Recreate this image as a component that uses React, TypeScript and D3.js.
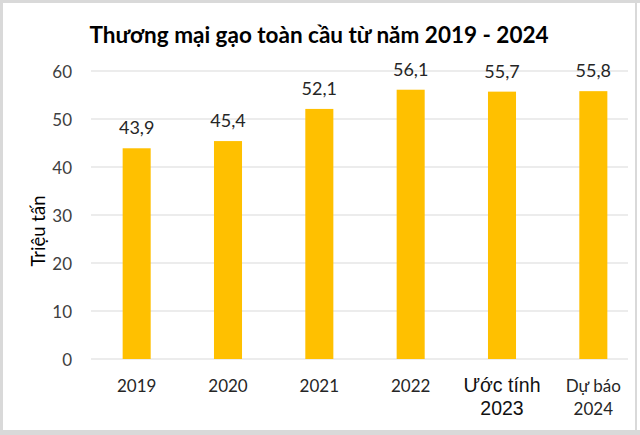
import React from "react"
import * as d3 from "d3"

const WIDTH = 640
const HEIGHT = 435
const MARGIN = { top: 71, right: 1, bottom: 76, left: 91 }
const GRID_RIGHT = 628
const FONT = "Lato, 'Open Sans', sans-serif"

const title = "Thương mại gạo toàn cầu từ năm 2019 - 2024"
const yLabel = "Triệu tấn"
const categories = ["2019", "2020", "2021", "2022", "Ước tính 2023", "Dự báo 2024"]
const categoryLines = [["2019"], ["2020"], ["2021"], ["2022"], ["Ước tính", "2023"], ["Dự báo", "2024"]]
const values = [43.9, 45.4, 52.1, 56.1, 55.7, 55.8]
const valueLabels = ["43,9", "45,4", "52,1", "56,1", "55,7", "55,8"]
const yTicks = [0, 10, 20, 30, 40, 50, 60]

export default function App() {
    const boundsWidth = WIDTH - MARGIN.left - MARGIN.right
    const boundsHeight = HEIGHT - MARGIN.top - MARGIN.bottom

    const xScale = d3
        .scaleBand()
        .domain(categories)
        .range([0, boundsWidth])
        .paddingInner(0.693)
        .paddingOuter(0.3465)

    const yScale = d3.scaleLinear().domain([0, 60]).range([boundsHeight, 0])

    const grid = yTicks.map((t) => (
        <g key={t}>
            <line
                x1={0}
                x2={GRID_RIGHT - MARGIN.left}
                y1={yScale(t)}
                y2={yScale(t)}
                stroke="#d9d9d9"
                strokeWidth={1}
            />
            <text
                x={-19}
                y={yScale(t)}
                textAnchor="end"
                dominantBaseline="central"
                fontSize={17}
                fill="#404040"
            >
                {t}
            </text>
        </g>
    ))

    const bars = values.map((v, i) => {
        const x = xScale(categories[i]) ?? 0
        const cx = x + xScale.bandwidth() / 2
        return (
            <g key={i}>
                <rect
                    x={x}
                    y={yScale(v)}
                    width={xScale.bandwidth()}
                    height={boundsHeight - yScale(v)}
                    fill="#ffc000"
                />
                <text
                    x={cx}
                    y={yScale(v) - 14}
                    textAnchor="middle"
                    fontSize={18}
                    fill="#262626"
                >
                    {valueLabels[i]}
                </text>
            </g>
        )
    })

    // category labels; "Ước tính 2023" uses a different font in the original
    const xLabels = categoryLines.map((lines, i) => {
        const cx = (xScale(categories[i]) ?? 0) + xScale.bandwidth() / 2
        const special = i === 4
        return (
            <text
                key={i}
                x={cx}
                textAnchor="middle"
                fontSize={special ? 19.5 : 17}
                fontFamily={special ? "'Liberation Sans', Arial, sans-serif" : FONT}
                fill={special ? "#111111" : "#262626"}
            >
                {lines.map((l, j) => (
                    <tspan key={j} x={cx} y={boundsHeight + 33 + j * 23}>
                        {l}
                    </tspan>
                ))}
            </text>
        )
    })

    return (
        <div style={{ position: "absolute", left: 0, top: 0 }}>
            <svg width={WIDTH} height={HEIGHT} fontFamily={FONT}>
                <rect x={0} y={0} width={WIDTH} height={HEIGHT} fill="#ffffff" />
                {/* chart frame */}
                <rect x={0} y={0} width={WIDTH} height={3} fill="#d9d9d9" />
                <rect x={0} y={0} width={3} height={HEIGHT} fill="#d9d9d9" />
                <rect x={635} y={0} width={2} height={HEIGHT} fill="#d9d9d9" />
                <rect x={0} y={430} width={WIDTH} height={5} fill="#d9d9d9" />
                <text
                    x={319}
                    y={43}
                    textAnchor="middle"
                    fontSize={22.5}
                    fontWeight="bold"
                    fill="#000000"
                >
                    {title}
                </text>
                <text
                    transform={`translate(38, 231) rotate(-90)`}
                    textAnchor="middle"
                    dominantBaseline="central"
                    fontSize={18.5}
                    fill="#000000"
                >
                    {yLabel}
                </text>
                <g transform={`translate(${MARGIN.left},${MARGIN.top})`}>
                    {grid}
                    {bars}
                    {xLabels}
                </g>
            </svg>
        </div>
    )
}
